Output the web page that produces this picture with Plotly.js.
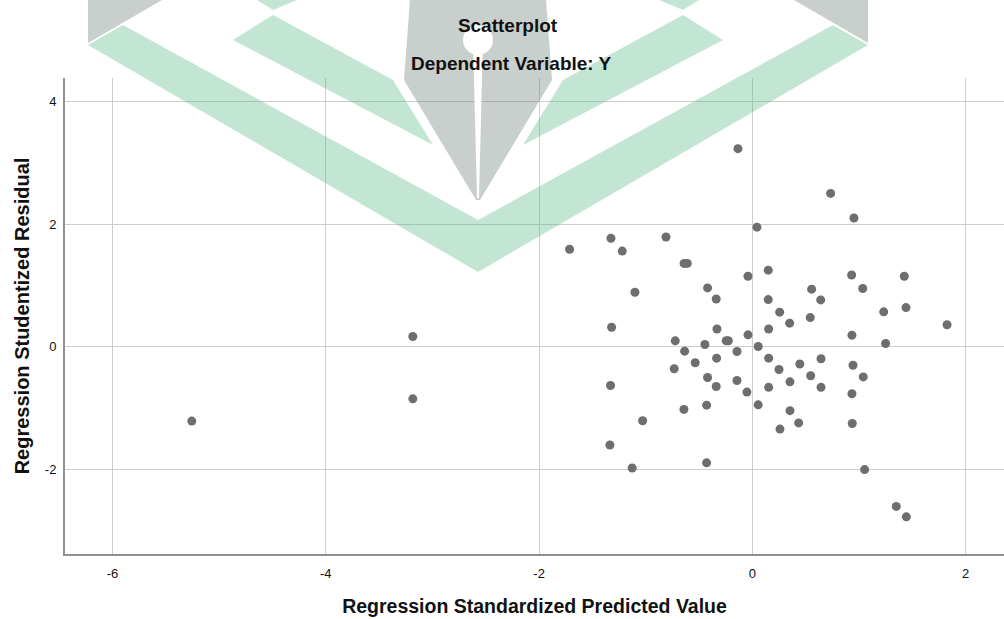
<!DOCTYPE html>
<html>
<head>
<meta charset="utf-8">
<script src="https://cdn.plot.ly/plotly-3.0.1.min.js"></script>
<style>
  html, body { margin: 0; padding: 0; background: #ffffff; overflow: hidden; }
  #chart { width: 1004px; height: 619px; }
</style>
</head>
<body>
<div id="chart"></div>
<script>
// ---- Data (standardized predicted value, studentized residual) ----
const predicted = [
  -5.257, -3.184, -3.184, -1.714, -1.326, -1.220, -0.810, -0.640, -0.610, -1.101,
  -0.420, -0.339, -0.041, 0.149, 0.149, 0.256, 0.350, 0.556, 0.641, 0.543,
  0.931, 1.035, 1.232, 1.425, 1.441, 1.826, -0.135, 0.734, 0.953, 0.043,
  -1.320, -0.723, -0.635, -0.445, -0.332, -0.245, -0.225, -0.144, -0.041, 0.055,
  0.153, 0.934, 1.250, -0.536, -0.335, -0.733, -0.420, -0.339, -0.144, -0.051,
  0.153, 0.250, 0.445, 0.644, 0.353, 0.547, 0.153, 0.644, 0.944, 1.040,
  0.934, -1.330, -0.642, -0.429, 0.055, 0.353, 0.434, 0.259, 0.937, -1.029,
  -1.336, -1.127, -0.429, 1.053, 1.350, 1.444
];
const residual = [
  -1.210, 0.168, -0.847, 1.590, 1.770, 1.560, 1.790, 1.360, 1.360, 0.890,
  0.960, 0.780, 1.150, 1.250, 0.770, 0.565, 0.386, 0.940, 0.765, 0.477,
  1.170, 0.950, 0.570, 1.150, 0.640, 0.360, 3.230, 2.500, 2.100, 1.950,
  0.320, 0.098, -0.070, 0.038, 0.290, 0.100, 0.100, -0.076, 0.195, 0.005,
  0.290, 0.190, 0.054, -0.260, -0.184, -0.358, -0.500, -0.646, -0.548, -0.738,
  -0.184, -0.369, -0.280, -0.195, -0.570, -0.472, -0.660, -0.660, -0.300, -0.490,
  -0.765, -0.630, -1.020, -0.950, -0.945, -1.040, -1.240, -1.340, -1.250, -1.205,
  -1.600, -1.975, -1.890, -2.000, -2.600, -2.770
];
const xTickVals = [-6, -4, -2, 0, 2];
const yTickVals = [-2, 0, 2, 4];
const titleText = 'Scatterplot';
const subtitleText = 'Dependent Variable: Y';
const xTitleText = 'Regression Standardized Predicted Value';
const yTitleText = 'Regression Studentized Residual';

// ---- Layout geometry ----
const W = 1004, H = 619;
const ML = 65, MR = 0, MT = 78, MB = 65;
const PW = W - ML - MR, PH = H - MT - MB;
const FONT = 'Liberation Sans, Arial, Helvetica, sans-serif';

// ---- Background watermark (decoration, page pixels) ----
function toPaper(p) { return [(p[0] - ML) / PW, 1 - (p[1] - MT) / PH]; }
function pathOf(poly) {
  return poly.map((p, i) => { const q = toPaper(p); return (i ? 'L' : 'M') + q[0].toFixed(5) + ',' + q[1].toFixed(5); }).join(' ') + ' Z';
}
const wmGreen = 'rgb(84,183,132)';
const wmGray = 'rgb(98,118,109)';
const wmOpacity = 0.35;
const wmGrayPolys = [
  [[88,0],[162,0],[88,43]],
  [[794,0],[868,0],[868,43]],
  [[410,0],[546,0],[552,80],[480,200],[476,200],[404,80]]
];
const wmGreenPolys = [
  [[88,45],[123,25],[478,220],[833,25],[868,45],[478,272]],
  [[233,40],[273,15],[393,80],[433,145]],
  [[723,40],[683,15],[563,80],[523,145]],
  [[257,0],[297,0],[273,10]],
  [[659,0],[699,0],[683,10]]
];
const shapes = [];
wmGrayPolys.forEach(p => shapes.push({type:'path', xref:'paper', yref:'paper', path: pathOf(p), fillcolor: wmGray, opacity: wmOpacity, line:{width:0}, layer:'above'}));
wmGreenPolys.forEach(p => shapes.push({type:'path', xref:'paper', yref:'paper', path: pathOf(p), fillcolor: wmGreen, opacity: wmOpacity, line:{width:0}, layer:'above'}));
// white eye and slit of the nib
const c0 = toPaper([463, 25]), c1 = toPaper([493, 55]);
shapes.push({type:'circle', xref:'paper', yref:'paper', x0:c0[0], y0:c1[1], x1:c1[0], y1:c0[1], fillcolor:'#ffffff', line:{width:0}, layer:'above'});
shapes.push({type:'path', xref:'paper', yref:'paper', path: pathOf([[473,40],[483,40],[479,198],[477,198]]), fillcolor:'#ffffff', line:{width:0}, layer:'above'});

const trace = {
  type: 'scatter',
  mode: 'markers',
  x: predicted,
  y: residual,
  marker: { color: '#6e6e6e', size: 9, line: { width: 0 } },
  hoverinfo: 'x+y',
  showlegend: false
};

const layout = {
  width: W, height: H,
  margin: { l: ML, r: MR, t: MT, b: MB, pad: 0 },
  paper_bgcolor: '#ffffff',
  plot_bgcolor: '#ffffff',
  font: { family: FONT, color: '#111111' },
  title: {
    text: titleText,
    font: { family: FONT, size: 19, weight: 'bold', color: '#111111' },
    xref: 'container', x: 507.5 / W, xanchor: 'center',
    yref: 'container', y: 1 - 25 / H, yanchor: 'middle'
  },
  annotations: [{
    text: subtitleText,
    xref: 'paper', yref: 'paper',
    x: (511 - ML) / PW, y: 1 + (MT - 63) / PH,
    xanchor: 'center', yanchor: 'middle',
    showarrow: false,
    font: { family: FONT, size: 19, weight: 'bold', color: '#111111' }
  }],
  xaxis: {
    range: [-6.446, 2.36],
    tickmode: 'array', tickvals: xTickVals, ticktext: xTickVals.map(String),
    showgrid: true, gridcolor: '#cdcdcd', gridwidth: 1,
    zeroline: false,
    showline: true, linecolor: '#8f8f8f', linewidth: 2,
    ticks: '', ticklabelstandoff: 6,
    tickfont: { family: FONT, size: 13, color: '#111111' },
    title: { text: xTitleText, standoff: 20, font: { family: FONT, size: 19.5, weight: 'bold', color: '#111111' } },
    fixedrange: true
  },
  yaxis: {
    range: [-3.376, 4.381],
    tickmode: 'array', tickvals: yTickVals, ticktext: yTickVals.map(String),
    showgrid: true, gridcolor: '#cdcdcd', gridwidth: 1,
    zeroline: false,
    showline: true, linecolor: '#8f8f8f', linewidth: 2,
    ticks: '', ticklabelstandoff: 4,
    tickfont: { family: FONT, size: 13, color: '#111111' },
    title: { text: yTitleText, standoff: 10, font: { family: FONT, size: 20, weight: 'bold', color: '#111111' } },
    fixedrange: true
  },
  shapes: shapes,
  showlegend: false,
  hovermode: 'closest'
};

Plotly.newPlot('chart', [trace], layout, { displayModeBar: false, staticPlot: false, responsive: false });
</script>
</body>
</html>
